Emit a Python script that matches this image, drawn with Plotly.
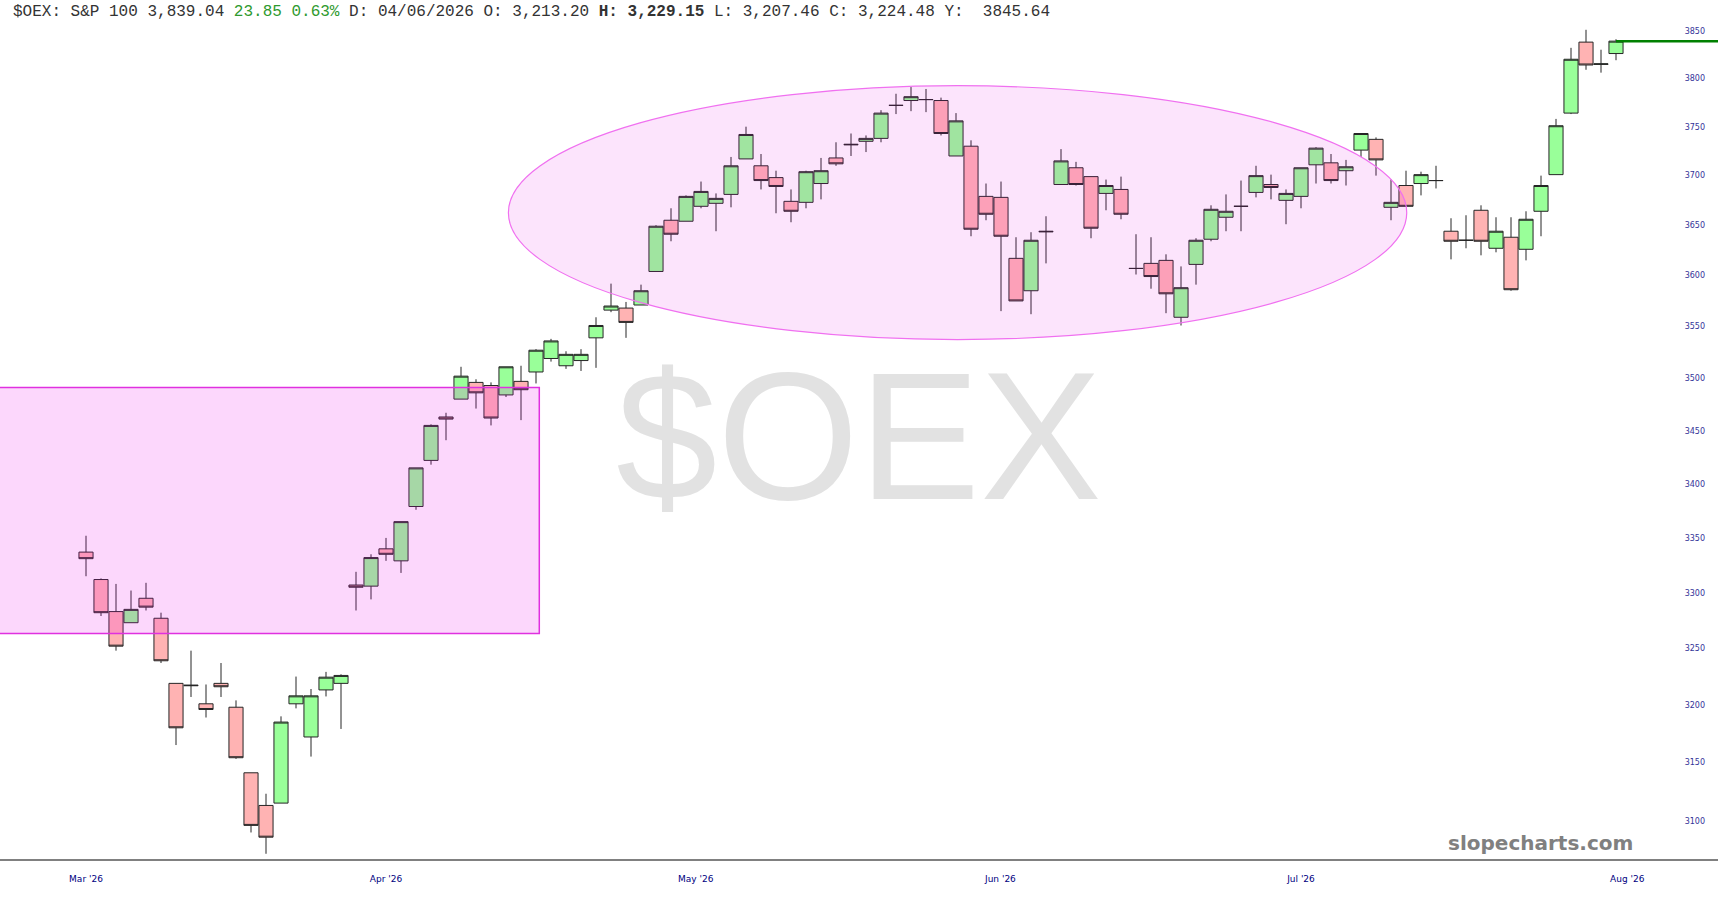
import math
import plotly.graph_objects as go

# ---------------- data ----------------
opens = [3337, 3312, 3283, 3273, 3295, 3277, 3219, 3217.5, 3201, 3219, 3198, 3141, 3113, 3115, 3201, 3172, 3213.20, 3219,
         3307, 3306, 3340, 3329, 3379, 3422, 3463, 3480, 3496, 3493, 3484, 3497, 3506, 3519, 3512, 3517, 3539, 3566,
         3568, 3571, 3604, 3655, 3654, 3669, 3672, 3681, 3717, 3710, 3698, 3674, 3673, 3692, 3718, 3732, 3735, 3738, 3772,
         3777, 3778, 3777, 3720, 3730, 3679, 3678, 3617, 3585, 3644, 3691, 3708, 3699, 3682, 3686, 3607, 3612, 3615,
         3559, 3611, 3636, 3658, 3669, 3683, 3691, 3675, 3679, 3711, 3713, 3705, 3726, 3737, 3668, 3690, 3692, 3695,
         3644, 3635, 3665, 3627, 3638, 3626, 3664, 3701, 3764, 3838, 3814.6, 3826]
highs = [3352, 3313, 3308, 3302, 3309, 3282, 3219, 3248, 3218, 3237, 3204, 3141, 3123, 3190, 3225, 3214, 3229.15, 3227,
         3319, 3335, 3350, 3365, 3415, 3456, 3467, 3511, 3499, 3496, 3511, 3512, 3528, 3538, 3526, 3528, 3559, 3592,
         3574, 3591, 3650, 3667, 3680, 3694, 3682, 3719, 3750, 3722, 3705, 3686, 3705, 3718, 3734, 3743, 3741, 3767, 3784,
         3791, 3789, 3780, 3764, 3736, 3692, 3694, 3638, 3643, 3659, 3727, 3714, 3699, 3696, 3699, 3641, 3638, 3621,
         3609, 3637, 3670, 3681, 3695, 3710, 3701, 3686, 3708, 3729, 3722, 3716, 3743, 3739, 3696, 3705, 3704, 3710,
         3657, 3660, 3670, 3658, 3658, 3664, 3700, 3758, 3832, 3851, 3830, 3841]
lows = [3315, 3279, 3248, 3273, 3284, 3237, 3165, 3207, 3189, 3207, 3153, 3090, 3072, 3115, 3197, 3155, 3207.46, 3179,
        3284, 3294, 3329, 3318, 3376, 3418, 3441, 3480, 3471, 3455, 3482, 3460, 3495, 3516, 3509, 3507, 3510, 3564,
        3539, 3571, 3604, 3634, 3654, 3667, 3644, 3668, 3717, 3686, 3662, 3653, 3667, 3676, 3710, 3720, 3724, 3734, 3763,
        3766, 3765, 3741, 3720, 3639, 3655, 3565, 3575, 3562, 3612, 3691, 3690, 3637, 3665, 3656, 3601, 3587, 3563,
        3551, 3591, 3634, 3644, 3644, 3678, 3676, 3651, 3667, 3692, 3692, 3690, 3719, 3700, 3655, 3669, 3680, 3687,
        3616, 3627, 3620, 3623, 3585, 3615, 3639, 3701, 3763, 3809, 3806, 3819]
closes = [3331, 3282, 3252, 3285, 3287, 3239, 3180, 3217, 3196, 3216, 3154, 3096, 3086, 3185, 3208, 3208, 3224.48, 3226,
          3305, 3332, 3335, 3365, 3415, 3455, 3461, 3502, 3486, 3462, 3511, 3489, 3527, 3536, 3523, 3523, 3551, 3570,
          3554, 3585, 3649, 3641, 3679, 3684, 3677, 3710, 3742, 3695, 3689, 3664, 3704, 3705, 3712, 3731.5, 3738, 3764, 3772,
          3781, 3778, 3743, 3756, 3646, 3661, 3639, 3575, 3635, 3643.5, 3715, 3691, 3647, 3690, 3661, 3607, 3599, 3582,
          3588, 3635, 3666, 3664, 3669, 3700, 3688, 3682, 3708, 3728, 3695, 3709, 3743, 3716, 3673, 3669, 3701, 3695,
          3634, 3635, 3634, 3644, 3586, 3656, 3690, 3751, 3820, 3814, 3815.19, 3839.04]

month_ticks = [0, 20, 40.65, 60.96, 81.0, 102.75]
month_labels = ["Mar '26", "Apr '26", "May '26", "Jun '26", "Jul '26", "Aug '26"]
price_ticks = list(range(3100, 3851, 50))

symbol = "$OEX"
name = "S&P 100"
info_index = 16
info_date = "04/06/2026"
cursor_value = "3845.64"

# drawn annotations (box + ellipse) in data units
box_x1, box_low, box_high = 30.22, 3263.4, 3491.2
ell_x0, ell_x1, ell_low, ell_high = 28.16, 88.05, 3537.3, 3792.4

# ---------------- figure ----------------
W, H = 1718, 900
X_MIN, X_MAX = -5.733, 108.8
Y_MIN, Y_MAX = 3067.6, 3882.6

n = len(opens)
idx = list(range(n))

fig = go.Figure()

fig.add_trace(go.Scatter(
    x=[idx[-1], X_MAX], y=[closes[-1], closes[-1]], mode="lines",
    line=dict(color="#008000", width=2.5), hoverinfo="skip", showlegend=False))

fig.add_trace(go.Candlestick(
    x=idx, open=opens, high=highs, low=lows, close=closes,
    increasing=dict(fillcolor="#99ff99", line=dict(color="#262626", width=1)),
    decreasing=dict(fillcolor="#ffb3b3", line=dict(color="#262626", width=1)),
    whiskerwidth=0, showlegend=False))

fig.add_shape(type="rect", xref="x", yref="y", x0=X_MIN - 5, x1=box_x1, y0=box_low, y1=box_high,
              fillcolor="rgba(236,0,236,0.157)", line=dict(color="#e030e0", width=1.5), layer="above")
fig.add_shape(type="circle", xref="x", yref="y", x0=ell_x0, x1=ell_x1, y0=ell_low, y1=ell_high,
              fillcolor="rgba(227,0,227,0.106)", line=dict(color="#f070f0", width=1.2), layer="above")

last, prev = closes[-1], closes[-2]
chg = last - prev
pct = chg / prev * 100
header = (f"{symbol}: {name} {last:,.2f} "
          f"<span style='color:#2e9a2e'>{chg:.2f} {pct:.2f}%</span> "
          f"D: {info_date} O: {opens[info_index]:,.2f} "
          f"<b>H: {highs[info_index]:,.2f}</b> "
          f"L: {lows[info_index]:,.2f} C: {closes[info_index]:,.2f} Y:\u00a0\u00a0{cursor_value}")

fig.add_annotation(xref="paper", yref="paper", x=11 / W, y=(859 - 12) / 859, xanchor="left", yanchor="middle",
                   text=header, showarrow=False,
                   font=dict(family="Liberation Mono", size=16, color="#333333"))

fig.add_annotation(xref="paper", yref="paper", x=858.5 / W, y=(859 - 435.5) / 859, xanchor="center", yanchor="middle",
                   text=symbol, showarrow=False,
                   font=dict(family="Liberation Sans", size=182, color="#e2e2e2"))

fig.add_annotation(xref="paper", yref="paper", x=1540 / W, y=(859 - 843) / 859, xanchor="center", yanchor="middle",
                   text="<b>slopecharts.com</b>", showarrow=False,
                   font=dict(family="DejaVu Sans", size=20, color="#808080"))

fig.update_layout(
    width=W, height=H, margin=dict(l=0, r=0, t=0, b=41),
    paper_bgcolor="white", plot_bgcolor="white", showlegend=False,
    boxgap=0.06, boxgroupgap=0,
    xaxis=dict(range=[X_MIN, X_MAX], rangeslider=dict(visible=False), showgrid=False, zeroline=False,
               showline=True, linecolor="#808080", linewidth=2, ticks="",
               tickmode="array", tickvals=month_ticks, ticktext=month_labels,
               tickfont=dict(family="DejaVu Sans", size=9, color="#000080"), ticklabelstandoff=10),
    yaxis=dict(type="log", range=[math.log10(Y_MIN), math.log10(Y_MAX)], side="right",
               ticklabelposition="inside", tickmode="array", tickvals=price_ticks,
               ticktext=[str(v) for v in price_ticks], showgrid=False, zeroline=False, showline=False, ticks="",
               tickfont=dict(family="DejaVu Sans", size=8, color="#333399"), ticklabelstandoff=10),
)

fig.write_html("out.html", config={"displayModeBar": False},
               post_script="document.body.style.margin='0';document.body.style.overflow='hidden';")
